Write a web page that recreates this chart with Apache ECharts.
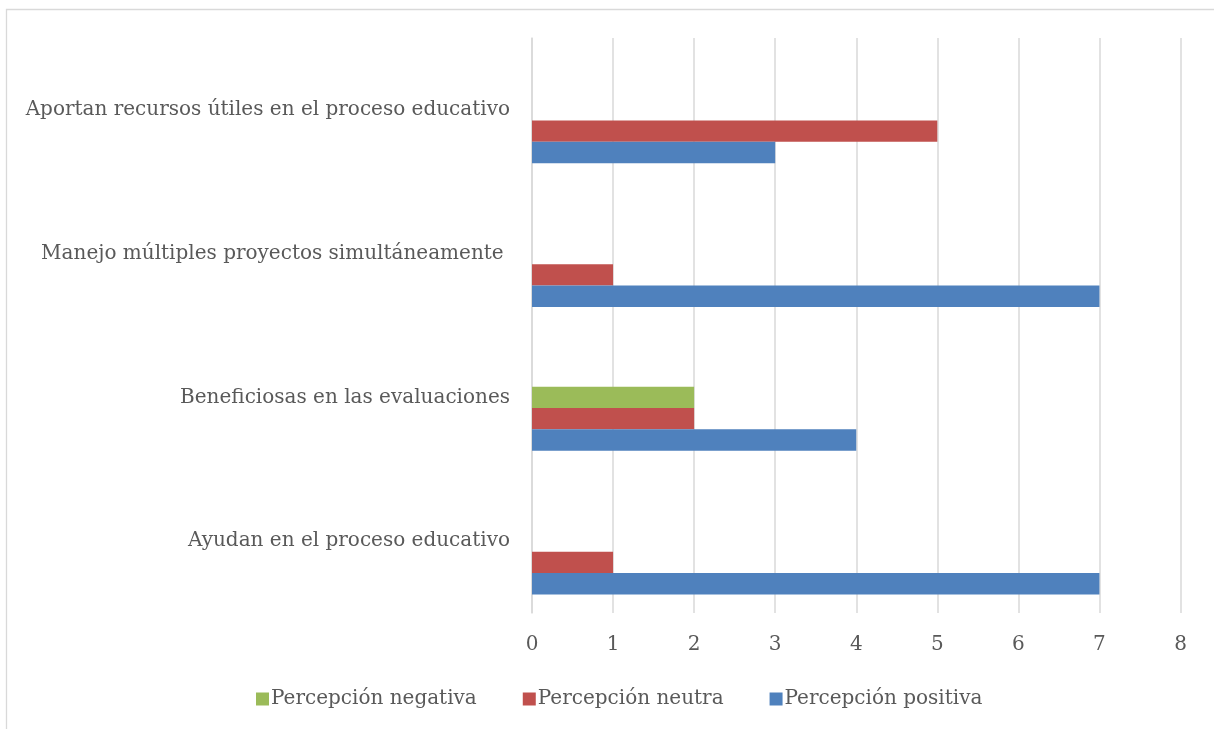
<!DOCTYPE html>
<html>
<head>
<meta charset="utf-8">
<script src="https://cdn.jsdelivr.net/npm/echarts@6/dist/echarts.min.js"></script>
<style>
html,body{margin:0;padding:0;background:#fff;}
#chart{width:1214px;height:729px;}
</style>
</head>
<body>
<div id="chart"></div>
<script>
// Categories listed bottom to top (ECharts category y axis starts at the bottom)
const categories = [
  'Ayudan en el proceso educativo',
  'Beneficiosas en las evaluaciones',
  'Manejo múltiples proyectos simultáneamente ',
  'Aportan recursos útiles en el proceso educativo'
];
const negativa = [0, 2, 0, 0];
const neutra = [1, 2, 1, 5];
const positiva = [7, 4, 7, 3];
const xTicks = [0, 1, 2, 3, 4, 5, 6, 7, 8];

const FONT = '"DejaVu Serif", serif';
const TXT = '#595959';

const chart = echarts.init(document.getElementById('chart'));
chart.setOption({
  animation: false,
  backgroundColor: '#ffffff',
  graphic: [{
    type: 'rect',
    shape: { x: 6.5, y: 9.5, width: 1300, height: 800 },
    style: { fill: 'none', stroke: '#d9d9d9', lineWidth: 1.3 },
    silent: true
  }],
  grid: { left: 532, right: 33.5, top: 38, bottom: 116, containLabel: false },
  legend: {
    data: ['Percepción negativa', 'Percepción neutra', 'Percepción positiva'],
    left: 251,
    top: 684,
    itemWidth: 13,
    itemHeight: 13,
    itemGap: 46,
    icon: 'rect',
    textStyle: { fontFamily: FONT, fontSize: 20, color: TXT, padding: [0, 0, 0, -3] }
  },
  xAxis: {
    type: 'value',
    min: xTicks[0],
    max: xTicks[xTicks.length - 1],
    interval: 1,
    axisLine: { show: false },
    axisTick: { show: false },
    axisLabel: { fontFamily: FONT, fontSize: 20, color: TXT, margin: 22 },
    splitLine: { show: true, lineStyle: { color: '#d9d9d9', width: 1.5 } }
  },
  yAxis: {
    type: 'category',
    data: categories,
    axisLine: { show: true, lineStyle: { color: '#d9d9d9', width: 1.5 } },
    axisTick: { show: false },
    axisLabel: { fontFamily: FONT, fontSize: 20, color: TXT, margin: 22, padding: [4, 0, 0, 0] },
    splitLine: { show: false }
  },
  series: [
    { name: 'spacer1', type: 'bar', data: [], barWidth: 21.3, barGap: '0%', silent: true },
    { name: 'spacer2', type: 'bar', data: [], barWidth: 21.3, barGap: '0%', silent: true },
    { name: 'Percepción negativa', type: 'bar', data: negativa, barWidth: 21.3, barGap: '0%', itemStyle: { color: '#9bbb59' } },
    { name: 'Percepción neutra', type: 'bar', data: neutra, barWidth: 21.3, barGap: '0%', itemStyle: { color: '#c0504d' } },
    { name: 'Percepción positiva', type: 'bar', data: positiva, barWidth: 21.3, barGap: '0%', itemStyle: { color: '#4f81bd' } }
  ]
});
</script>
</body>
</html>
